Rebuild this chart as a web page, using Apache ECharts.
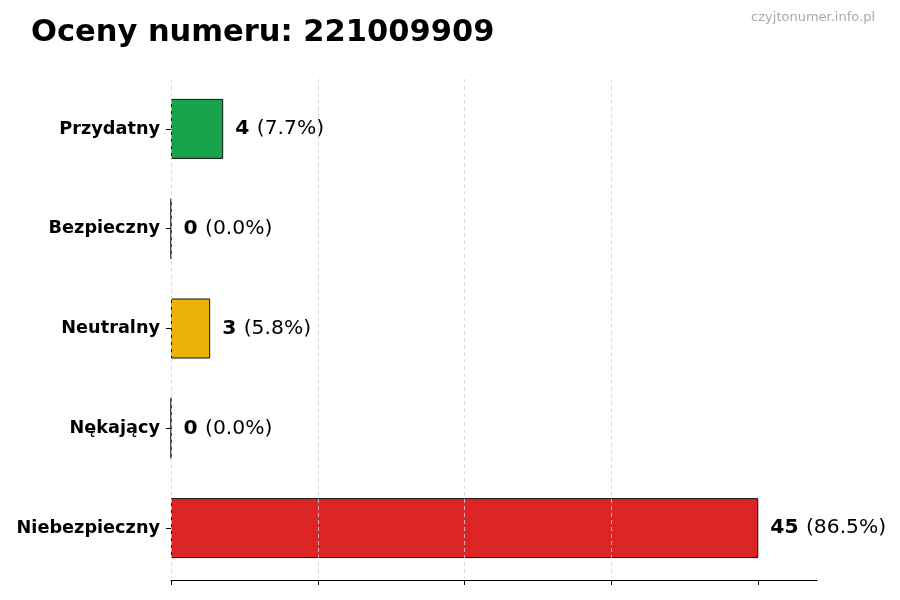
<!DOCTYPE html>
<html>
<head>
<meta charset="utf-8">
<script src="https://cdn.jsdelivr.net/npm/echarts@6/dist/echarts.min.js"></script>
<style>html,body{margin:0;padding:0;background:#fff}#c{width:900px;height:600px}</style>
</head>
<body>
<div id="c"></div>
<script>
const categories = ['Przydatny', 'Bezpieczny', 'Neutralny', 'Nękający', 'Niebezpieczny'];
const values = [4, 0, 3, 0, 45];
const colors = ['#16a34a', '#2563eb', '#eab308', '#f97316', '#dc2626'];
const xTicks = [0, 11.25, 22.5, 33.75, 45];
const titleText = 'Oceny numeru: 221009909';
const watermark = 'czyjtonumer.info.pl';

const total = values.reduce((a, b) => a + b, 0);
const font = 'DejaVu Sans';

const chart = echarts.init(document.getElementById('c'), null, {renderer: 'canvas'});
chart.setOption({
  backgroundColor: '#fff',
  animation: false,
  textStyle: {fontFamily: font},
  title: [
    {text: titleText, left: 31, top: 18, padding: 0, textStyle: {fontFamily: font, fontSize: 30.5, fontWeight: 'bold', color: '#000'}},
    {text: watermark, right: 25, top: 11, padding: 0, textStyle: {fontFamily: font, fontSize: 13, fontWeight: 'normal', color: '#aaaaaa'}}
  ],
  grid: {left: 171, right: 83, top: 79, height: 499, containLabel: false},
  xAxis: {
    type: 'value', min: 0, max: 49.5, interval: 11.25, z: 3, offset: 2,
    axisLine: {show: true, lineStyle: {color: '#000', width: 1}},
    axisTick: {show: true, length: 5, customValues: xTicks, lineStyle: {color: '#000'}},
    axisLabel: {show: false},
    splitLine: {show: true, showMaxLine: false, lineStyle: {color: '#d0d0d0', type: [4, 3], width: 0.8}}
  },
  yAxis: {
    type: 'category', data: categories, inverse: true,
    axisLine: {show: false},
    axisTick: {show: true, length: 5, alignWithLabel: true, lineStyle: {color: '#000'}},
    axisLabel: {margin: 11, fontFamily: font, fontSize: 17.7, fontWeight: 'bold', color: '#000'},
    splitLine: {show: false}
  },
  series: [{
    type: 'bar',
    barWidth: 60,
    data: values.map((v, i) => ({value: v, itemStyle: {color: colors[i]}})),
    itemStyle: {borderColor: '#111', borderWidth: 1},
    label: {
      show: true, position: 'right', distance: 12,
      formatter: p => '{b|' + p.value + '}{n| (' + (p.value / total * 100).toFixed(1) + '%)}',
      rich: {
        b: {fontFamily: font, fontSize: 20.3, fontWeight: 'bold', color: '#000'},
        n: {fontFamily: font, fontSize: 20.3, color: '#000', padding: [0, 0, 0, 1]}
      }
    }
  }]
});
</script>
</body>
</html>
